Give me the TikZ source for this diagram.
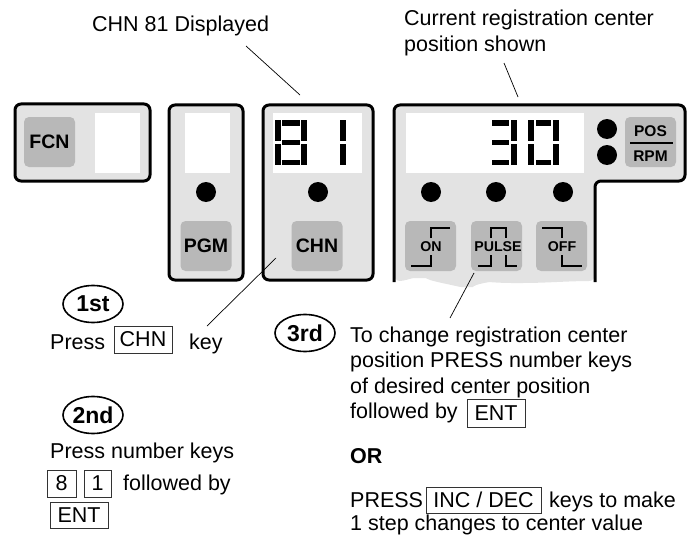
\documentclass[tikz,border=0pt]{standalone}
\usepackage{fontspec}
\setmainfont{Liberation Sans}
\usepackage{tikz}
\usetikzlibrary{shapes.geometric}

\begin{document}
\begin{tikzpicture}[x=1pt, y=-1pt,
  panel/.style={draw, line width=3pt, rounded corners=6pt, fill=black!11},
  window/.style={fill=white, inner sep=0pt},
  keypad/.style={fill=black!28, rounded corners=5pt, minimum width=51pt,
                 minimum height=50pt, inner sep=0pt, font=\fontsize{19.5}{19.5}\selectfont\bfseries},
  lamp/.style={circle, fill=black, minimum size=20pt, inner sep=0pt},
  leader/.style={line width=0.7pt},
  seg/.style={line width=5.5pt},
  wave/.style={line width=1.6pt},
  keybox/.style={draw=black!80, line width=0.8pt, inner sep=0pt, font=\fontsize{21.5}{21.5}\selectfont},
  stepmark/.style={draw, ellipse, line width=1.6pt, minimum width=60pt, minimum height=37pt,
                   inner sep=0pt, font=\fontsize{23}{23}\selectfont\bfseries},
  note/.style={font=\fontsize{21.5}{21.5}\selectfont, anchor=base west, inner sep=0pt},
  tag/.style={font=\fontsize{14.2}{14.2}\selectfont\bfseries, inner sep=0pt}]
\useasboundingbox (0,0) rectangle (694,535);
% panels
\draw[panel] (15,104) rectangle (150,181);
\draw[panel] (169,105) rectangle (243,280);
\draw[panel] (263,105) rectangle (373,280);
\fill[black!11, rounded corners=6pt] (394,281) -- (394,105) -- (685,105) -- (685,181) -- (595,181) -- (595,281)
  .. controls (570,281) and (545,283) .. (517,283)
  .. controls (500,283) and (490,282) .. (483,283)
  .. controls (476,285) and (472,287) .. (467,287)
  .. controls (460,287) and (447,284) .. (437,282)
  .. controls (430,280) and (425,278) .. (420,278)
  .. controls (412,278) and (404,281) .. (394,281) -- cycle;
\draw[line width=3pt, rounded corners=6pt] (394,282) -- (394,105) -- (685,105) -- (685,181)
  -- (595,181) -- (595,282);
% displays
\fill[window] (95,113) rectangle (140,173);
\fill[window] (185,113) rectangle (230,173);
\fill[window] (273,113) rectangle (362,173);
\fill[window] (406,113) rectangle (584,173);
% digits
\foreach \xa/\ya/\xb/\yb in {278/120/278/141, 278/144/278/165, 304/120/304/141, 304/144/304/165,
    282/123/300/123, 282/142.5/300/142.5, 282/162.5/300/162.5, 343/120/343/141, 343/144/343/165,
    514/120/514/141, 514/144/514/165, 492/123/509/123, 492/142.5/509/142.5, 492/162.5/509/162.5,
    531/120/531/141, 531/144/531/165, 556/120/556/141, 556/144/556/165,
    536/123/551/123, 536/162.5/551/162.5}
  \draw[seg] (\xa,\ya) -- (\xb,\yb);
% lamps
\foreach \nm/\cx/\cy in {lpgm/206/192, lchn/318/192, lon/431/192, lpulse/496/192, loff/563/192,
    lpos/607/129, lrpm/607/155}
  \node[lamp] (\nm) at (\cx,\cy) {};
% keys
\node[keypad] (fcn) at (49.5,142) {FCN};
\node[keypad] (pgm) at (206,246) {PGM};
\node[keypad] (chn) at (317,246) {CHN};
\node[keypad] (pos) at (650.5,142) {};
\node[tag, font=\fontsize{15.5}{15.5}\selectfont\bfseries] (tpos) at (650.5,131) {POS};
\node[tag, font=\fontsize{15.5}{15.5}\selectfont\bfseries] (trpm) at (650.5,156) {RPM};
\draw[line width=2.4pt] (630,143) -- (673,143);
\node[keypad] (on) at (430.5,246) {};
\node[keypad] (pulse) at (496.5,246) {};
\node[keypad] (off) at (561.5,246) {};
\node[tag] (ton) at (431,247) {ON};
\node[tag] (tpulse) at (498,247) {PULSE};
\node[tag] (toff) at (562,247) {OFF};
\draw[wave] (411,266) -- (431,266) -- (431,255);
\draw[wave] (431,238) -- (431,228) -- (450,228);
\draw[wave] (478,266) -- (491,266) -- (491,255);
\draw[wave] (491,238) -- (491,228) -- (506,228) -- (506,238);
\draw[wave] (506,255) -- (506,266) -- (517,266);
\draw[wave] (542,228) -- (562,228) -- (562,238);
\draw[wave] (562,255) -- (562,266) -- (582,266);
% top labels
\node[note] (shown) at (92,32) {CHN 81 Displayed};
\node[note] (current) at (404,26) {Current registration center};
\node[note] (currentb) at (404,52) {position shown};
\coordinate (a1) at (246,46);
\coordinate (a2) at (300,95);
\coordinate (b1) at (504,63);
\coordinate (b2) at (518,97);
\coordinate (c1) at (276,258);
\coordinate (c2) at (207,326);
\coordinate (d1) at (474,273);
\coordinate (d2) at (450,318);
\draw[leader] (a1) -- (a2);
\draw[leader] (b1) -- (b2);
\draw[leader] (c1) -- (c2);
\draw[leader] (d1) -- (d2);
% steps
\node[stepmark] (first) at (93,304) {1st};
\node[note] (press) at (50,349) {Press};
\node[keybox, minimum width=58pt, minimum height=27pt] (kchn) at (143,339.5) {CHN};
\node[note] (key) at (189,349) {key};
\node[stepmark] (second) at (93,415) {2nd};
\node[note] (pressb) at (50,458) {Press number keys};
\node[keybox, minimum width=29pt, minimum height=27pt] (keight) at (61.5,483.5) {8};
\node[keybox, minimum width=27pt, minimum height=27pt] (kone) at (97.5,483.5) {1};
\node[note] (follow) at (123,490) {followed by};
\node[keybox, minimum width=58pt, minimum height=26pt] (kent) at (79,515) {ENT};
\node[stepmark] (third) at (305,333) {3rd};
\node[note] (linea) at (350,342) {To change registration center};
\node[note] (lineb) at (350,367) {position PRESS number keys};
\node[note] (linec) at (350,393) {of desired center position};
\node[note] (lined) at (350,418) {followed by};
\node[keybox, minimum width=58pt, minimum height=28pt] (kentb) at (496,413) {ENT};
\node[note, font=\fontsize{21.5}{21.5}\selectfont\bfseries] (orline) at (350,463) {OR};
\node[note] (linee) at (350,507) {PRESS};
\node[keybox, minimum width=115pt, minimum height=26pt] (kinc) at (483.5,500) {INC / DEC};
\node[note] (linef) at (549,507) {keys to make};
\node[note] (lineg) at (350,530.5) {1 step changes to center value};
\end{tikzpicture}
\end{document}
